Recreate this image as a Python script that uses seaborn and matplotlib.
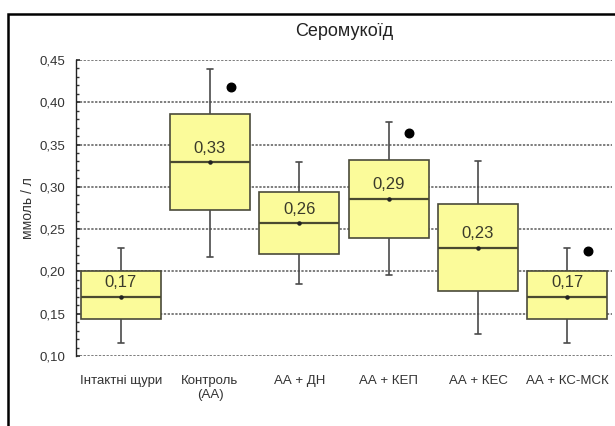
import numpy as np
import pandas as pd
import seaborn as sns
import matplotlib
matplotlib.use("Agg")
import matplotlib.pyplot as plt
from matplotlib.patches import Rectangle
from matplotlib.ticker import MultipleLocator, FuncFormatter

# ---- data ----
groups = ["Інтактні щури", "Контроль\n(АА)", "АА + ДН", "АА + КЕП", "АА + КЕС", "АА + КС-МСК"]
whisk_low = [0.115, 0.217, 0.185, 0.196, 0.126, 0.115]
q1 = [0.144, 0.273, 0.221, 0.240, 0.177, 0.144]
median = [0.170, 0.329, 0.257, 0.286, 0.228, 0.170]
q3 = [0.200, 0.386, 0.294, 0.332, 0.280, 0.200]
whisk_high = [0.228, 0.439, 0.329, 0.377, 0.330, 0.228]
extra_points = [np.nan, 0.418, np.nan, 0.364, np.nan, 0.224]
median_labels = ["0,17", "0,33", "0,26", "0,29", "0,23", "0,17"]
title = "Серомукоїд"
ylabel = "ммоль / л"

rows = []
for g, a, b, c, d, e in zip(groups, whisk_low, q1, median, q3, whisk_high):
    for v in (a, b, c, d, e):
        rows.append({"group": g, "value": v})
df = pd.DataFrame(rows)

sns.set_theme(style="white")
plt.rcParams["font.family"] = ["Liberation Sans", "DejaVu Sans"]

fig = plt.figure(figsize=(6.15, 4.26), dpi=100)
ax = fig.add_axes([76 / 615, 1 - 356 / 426, (612 - 76) / 615, (356 - 60) / 426])

edge = "#4a4a3a"
sns.boxplot(data=df, x="group", y="value", order=groups, whis=(0, 100),
            width=0.895, color="#ffff99", saturation=1, linecolor=edge,
            linewidth=1.0, showfliers=False, ax=ax,
            boxprops=dict(facecolor="#fbfb9a", edgecolor=edge, linewidth=1.2),
            medianprops=dict(color="#4a4a30", linewidth=1.6),
            whiskerprops=dict(color="#4a4a4a", linewidth=1.2),
            capprops=dict(color="#4a4a4a", linewidth=1.2),
            capwidths=0.07)

xpos = np.arange(len(groups))
ax.scatter(xpos, median, s=5, color="#222222", zorder=5)
ax.scatter(xpos + 0.23, extra_points, s=38, color="black", zorder=5)
for x, m, lab in zip(xpos, median, median_labels):
    ax.annotate(lab, (x, m), xytext=(0, 10), textcoords="offset points",
                ha="center", va="center", fontsize=12, color="#3a3a2a")

ax.set_xlim(-0.5, 5.5)
ax.set_ylim(0.10, 0.45)
ax.yaxis.set_major_locator(MultipleLocator(0.05))
ax.yaxis.set_minor_locator(MultipleLocator(0.01))
ax.yaxis.set_major_formatter(FuncFormatter(lambda v, p: f"{v:.2f}".replace(".", ",")))
ax.grid(False)
for yv in np.arange(0.10, 0.451, 0.05):
    ax.axhline(yv, color="#5a5a5a", linestyle=(0, (1.5, 1)), linewidth=1.1, zorder=0.5)

for s in ("top", "right", "bottom"):
    ax.spines[s].set_visible(False)
ax.spines["left"].set_color("#222222")
ax.spines["left"].set_linewidth(1.0)
ax.tick_params(axis="y", which="both", direction="in", left=True, colors="#333333",
               labelsize=9.5, pad=8)
ax.tick_params(axis="y", which="major", length=3)
ax.tick_params(axis="y", which="minor", length=2)
ax.tick_params(axis="x", bottom=False, labelsize=9.5, colors="#333333", pad=8)
ax.set_xlabel("")
ax.set_ylabel(ylabel, fontsize=10, color="#333333", labelpad=3)
ax.set_title(title, fontsize=13, color="#222222", pad=17)

fig.patches.append(Rectangle((8 / 615, -0.2), 1.2, 1 - 14 / 426 + 0.2, transform=fig.transFigure,
                             fill=False, edgecolor="black", linewidth=1.8, clip_on=False))

fig.savefig("out.png", dpi=100)
